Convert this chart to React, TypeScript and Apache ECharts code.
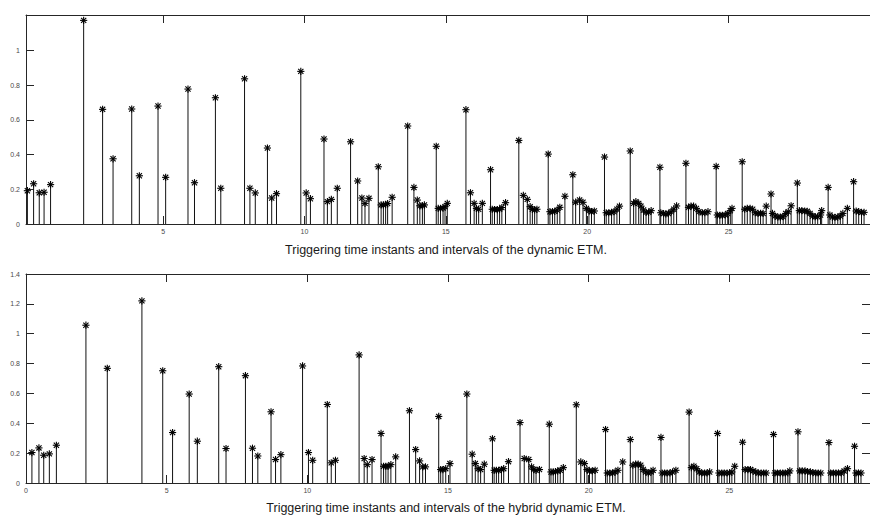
import React, { useEffect, useRef } from "react";
import * as echarts from "echarts";

const titleTop = "Triggering time instants and intervals of the dynamic ETM.";
const titleBottom = "Triggering time instants and intervals of the hybrid dynamic ETM.";

const xTickValues = [5, 10, 15, 20, 25];
const xTickValuesBottom = [0, 5, 10, 15, 20, 25];

const tTop = [
  0.2, 0.42, 0.62, 0.79, 1.02, 2.19, 2.86, 3.23, 3.89, 4.16, 4.82, 5.09, 5.88, 6.11, 6.85, 7.04, 7.88, 8.07, 8.26, 8.69,
  8.84, 9.01, 9.87, 10.06, 10.21, 10.69, 10.81, 10.95, 11.16, 11.63, 11.88, 12.03, 12.14, 12.28, 12.61, 12.71, 12.79,
  12.87, 12.94, 13.1, 13.65, 13.87, 13.99, 14.08, 14.17, 14.24, 14.66, 14.73, 14.81, 14.9, 14.97, 15.05, 15.71, 15.87,
  16.0, 16.08, 16.16, 16.29, 16.58, 16.64, 16.72, 16.82, 16.9, 16.98, 17.11, 17.58, 17.74, 17.88, 17.98, 18.06, 18.14,
  18.22, 18.62, 18.68, 18.77, 18.85, 18.94, 19.03, 19.21, 19.49, 19.59, 19.73, 19.85, 19.97, 20.06, 20.15, 20.25, 20.61,
  20.67, 20.76, 20.86, 20.95, 21.05, 21.14, 21.52, 21.64, 21.72, 21.82, 21.9, 21.99, 22.08, 22.17, 22.26, 22.57, 22.6,
  22.7, 22.78, 22.87, 22.97, 23.06, 23.16, 23.49, 23.58, 23.67, 23.76, 23.86, 23.95, 24.07, 24.16, 24.27, 24.56, 24.6,
  24.69, 24.78, 24.88, 24.97, 25.06, 25.12, 25.48, 25.57, 25.66, 25.76, 25.85, 25.94, 26.04, 26.13, 26.22, 26.33, 26.5,
  26.55, 26.64, 26.74, 26.83, 26.93, 27.02, 27.11, 27.21, 27.43, 27.5, 27.59, 27.69, 27.78, 27.88, 27.97, 28.06, 28.15,
  28.25, 28.29, 28.52, 28.58, 28.67, 28.76, 28.86, 28.95, 29.04, 29.2, 29.42, 29.51, 29.6, 29.7, 29.79,
];
const vTop = [
  0.192, 0.232, 0.18, 0.183, 0.227, 1.174, 0.661, 0.376, 0.663, 0.278, 0.68, 0.269, 0.778, 0.238, 0.728, 0.206, 0.837,
  0.206, 0.179, 0.438, 0.15, 0.175, 0.88, 0.179, 0.146, 0.49, 0.129, 0.142, 0.206, 0.474, 0.248, 0.15, 0.119, 0.148,
  0.33, 0.11, 0.11, 0.112, 0.118, 0.154, 0.565, 0.211, 0.138, 0.105, 0.105, 0.11, 0.448, 0.09, 0.09, 0.092, 0.1, 0.119,
  0.659, 0.18, 0.119, 0.09, 0.085, 0.119, 0.313, 0.085, 0.083, 0.083, 0.085, 0.095, 0.123, 0.482, 0.165, 0.142, 0.1,
  0.085, 0.081, 0.085, 0.403, 0.071, 0.071, 0.073, 0.08, 0.096, 0.16, 0.284, 0.126, 0.138, 0.125, 0.09, 0.077, 0.071,
  0.075, 0.386, 0.065, 0.065, 0.067, 0.071, 0.085, 0.103, 0.421, 0.119, 0.129, 0.119, 0.103, 0.081, 0.067, 0.067, 0.077,
  0.327, 0.065, 0.06, 0.058, 0.06, 0.071, 0.085, 0.104, 0.35, 0.096, 0.103, 0.103, 0.09, 0.071, 0.065, 0.065, 0.071,
  0.332, 0.052, 0.05, 0.05, 0.052, 0.06, 0.077, 0.09, 0.359, 0.085, 0.09, 0.09, 0.085, 0.065, 0.061, 0.061, 0.061, 0.103,
  0.173, 0.061, 0.046, 0.04, 0.04, 0.042, 0.061, 0.071, 0.105, 0.236, 0.077, 0.077, 0.075, 0.073, 0.061, 0.046, 0.042,
  0.042, 0.052, 0.077, 0.211, 0.052, 0.04, 0.038, 0.04, 0.046, 0.061, 0.09, 0.244, 0.075, 0.071, 0.067, 0.067,
];

const tBot = [
  0.21, 0.46, 0.63, 0.83, 1.08, 2.13, 2.89, 4.12, 4.86, 5.21, 5.8, 6.09, 6.85, 7.11, 7.8, 8.05, 8.24, 8.71, 8.87, 9.06,
  9.83, 10.04, 10.19, 10.71, 10.85, 11.0, 11.84, 12.02, 12.13, 12.3, 12.62, 12.71, 12.79, 12.87, 12.97, 13.14, 13.63,
  13.85, 13.99, 14.1, 14.2, 14.67, 14.74, 14.82, 14.92, 15.07, 15.67, 15.86, 15.97, 16.07, 16.16, 16.29, 16.58, 16.64,
  16.72, 16.8, 16.9, 16.98, 17.15, 17.56, 17.71, 17.87, 17.97, 18.05, 18.13, 18.25, 18.6, 18.66, 18.74, 18.82, 18.9,
  18.99, 19.1, 19.56, 19.72, 19.85, 19.94, 20.03, 20.13, 20.23, 20.6, 20.66, 20.75, 20.85, 20.94, 21.04, 21.21, 21.48,
  21.57, 21.67, 21.76, 21.85, 21.94, 22.03, 22.12, 22.22, 22.29, 22.57, 22.61, 22.7, 22.79, 22.89, 22.98, 23.1, 23.57,
  23.65, 23.74, 23.84, 23.93, 24.02, 24.12, 24.21, 24.3, 24.58, 24.63, 24.73, 24.82, 24.92, 25.01, 25.09, 25.19, 25.47,
  25.56, 25.66, 25.75, 25.84, 25.94, 26.03, 26.13, 26.22, 26.31, 26.57, 26.62, 26.71, 26.81, 26.9, 26.99, 27.08, 27.15,
  27.44, 27.5, 27.59, 27.69, 27.78, 27.88, 27.97, 28.07, 28.16, 28.25, 28.54, 28.6, 28.7, 28.79, 28.88, 28.98, 29.08,
  29.2, 29.45, 29.5, 29.59, 29.68,
];
const vBot = [
  0.204, 0.235, 0.186, 0.195, 0.253, 1.057, 0.768, 1.22, 0.752, 0.338, 0.596, 0.28, 0.779, 0.231, 0.719, 0.233, 0.181,
  0.477, 0.157, 0.19, 0.784, 0.204, 0.152, 0.526, 0.135, 0.152, 0.858, 0.164, 0.123, 0.157, 0.332, 0.112, 0.112, 0.112,
  0.123, 0.175, 0.484, 0.224, 0.148, 0.108, 0.108, 0.446, 0.09, 0.09, 0.096, 0.13, 0.596, 0.193, 0.13, 0.096, 0.09,
  0.126, 0.296, 0.085, 0.085, 0.085, 0.09, 0.096, 0.143, 0.405, 0.164, 0.157, 0.108, 0.09, 0.085, 0.09, 0.394, 0.074,
  0.074, 0.076, 0.081, 0.085, 0.103, 0.524, 0.141, 0.13, 0.09, 0.081, 0.081, 0.085, 0.358, 0.067, 0.067, 0.067, 0.074,
  0.085, 0.141, 0.291, 0.119, 0.126, 0.126, 0.119, 0.09, 0.074, 0.067, 0.074, 0.085, 0.305, 0.067, 0.067, 0.067, 0.067,
  0.074, 0.085, 0.475, 0.103, 0.112, 0.096, 0.074, 0.067, 0.067, 0.067, 0.074, 0.332, 0.067, 0.067, 0.067, 0.067, 0.067,
  0.074, 0.112, 0.273, 0.09, 0.09, 0.09, 0.081, 0.074, 0.067, 0.067, 0.067, 0.067, 0.325, 0.067, 0.067, 0.067, 0.067,
  0.067, 0.067, 0.081, 0.343, 0.081, 0.081, 0.081, 0.076, 0.074, 0.07, 0.067, 0.067, 0.067, 0.271, 0.067, 0.067, 0.067,
  0.067, 0.067, 0.081, 0.096, 0.246, 0.067, 0.067, 0.067,
];

const AXIS = "#262626";
const LABEL = "#4a4a4a";
const FONT = "Liberation Sans, Arial, sans-serif";

function stemRender(params: any, api: any) {
  const x = api.value(0);
  const y = api.value(1);
  const b = api.coord([x, 0]);
  const p = api.coord([x, y]);
  const r = 3.6;
  const d = r * 0.72;
  const st = { stroke: "#111", lineWidth: 1 };
  const sm = { stroke: "#000", lineWidth: 1.1 };
  return {
    type: "group",
    children: [
      { type: "line", shape: { x1: b[0], y1: b[1], x2: p[0], y2: p[1] }, style: st },
      { type: "line", shape: { x1: p[0] - r, y1: p[1], x2: p[0] + r, y2: p[1] }, style: sm },
      { type: "line", shape: { x1: p[0], y1: p[1] - r, x2: p[0], y2: p[1] + r }, style: sm },
      { type: "line", shape: { x1: p[0] - d, y1: p[1] - d, x2: p[0] + d, y2: p[1] + d }, style: sm },
      { type: "line", shape: { x1: p[0] - d, y1: p[1] + d, x2: p[0] + d, y2: p[1] - d }, style: sm },
    ],
  };
}

function xAx(grid: number, min: number, pos: string, labels: boolean, ticks: number[]) {
  return {
    gridIndex: grid,
    type: "value",
    min,
    max: 30,
    position: pos,
    axisLine: { show: true, onZero: false, lineStyle: { color: AXIS, width: 1 } },
    axisTick: { show: true, inside: true, length: 8, customValues: ticks, lineStyle: { color: AXIS } },
    axisLabel: {
      show: labels,
      customValues: ticks,
      fontSize: 7,
      color: LABEL,
      fontFamily: FONT,
      margin: 4,
    },
    splitLine: { show: false },
  };
}

function yAx(grid: number, max: number, pos: string, labels: boolean, ticks: number[]) {
  return {
    gridIndex: grid,
    type: "value",
    min: 0,
    max,
    position: pos,
    axisLine: { show: true, onZero: false, lineStyle: { color: AXIS, width: 1 } },
    axisTick: { show: true, inside: true, length: 8, customValues: ticks, lineStyle: { color: AXIS } },
    axisLabel: {
      show: labels,
      customValues: ticks,
      fontSize: 7,
      color: LABEL,
      fontFamily: FONT,
      margin: 6,
    },
    splitLine: { show: false },
  };
}

const yTicksTop = [0, 0.2, 0.4, 0.6, 0.8, 1];
const yTicksBot = [0, 0.2, 0.4, 0.6, 0.8, 1, 1.2, 1.4];

export default function App() {
  const ref = useRef<HTMLDivElement>(null);
  useEffect(() => {
    if (!ref.current) return;
    const chart = echarts.init(ref.current, null, { renderer: "svg" });
    const option: any = {
      animation: false,
      backgroundColor: "#fff",
      grid: [
        { left: 26, top: 15, width: 849, height: 209 },
        { left: 26, top: 274, width: 852, height: 209 },
      ],
      xAxis: [
        xAx(0, 0.151, "bottom", true, xTickValues),
        xAx(0, 0.151, "top", false, xTickValues),
        xAx(1, 0, "bottom", true, xTickValuesBottom),
        xAx(1, 0, "top", false, xTickValues),
      ],
      yAxis: [
        yAx(0, 1.205, "left", true, yTicksTop),
        yAx(1, 1.4, "left", true, yTicksBot),
        yAx(1, 1.4, "right", false, yTicksBot),
      ],
      series: [
        {
          type: "custom",
          xAxisIndex: 0,
          yAxisIndex: 0,
          renderItem: stemRender,
          encode: { x: 0, y: 1 },
          data: tTop.map((t, i) => [t, vTop[i]]),
        },
        {
          type: "custom",
          xAxisIndex: 2,
          yAxisIndex: 1,
          renderItem: stemRender,
          encode: { x: 0, y: 1 },
          data: tBot.map((t, i) => [t, vBot[i]]),
        },
      ],
      graphic: [
        {
          type: "text",
          x: 446,
          y: 250,
          style: {
            text: titleTop,
            fontSize: 12.5,
            fontFamily: FONT,
            fill: "#1a1a1a",
            align: "center",
            verticalAlign: "middle",
          },
        },
        {
          type: "text",
          x: 446,
          y: 508,
          style: {
            text: titleBottom,
            fontSize: 12.5,
            fontFamily: FONT,
            fill: "#1a1a1a",
            align: "center",
            verticalAlign: "middle",
          },
        },
      ],
    };
    chart.setOption(option);
    return () => chart.dispose();
  }, []);
  return (
    <div
      ref={ref}
      style={{
        position: "fixed",
        left: 0,
        top: 0,
        width: 870,
        height: 518,
        overflow: "hidden",
        background: "#fff",
      }}
    />
  );
}
